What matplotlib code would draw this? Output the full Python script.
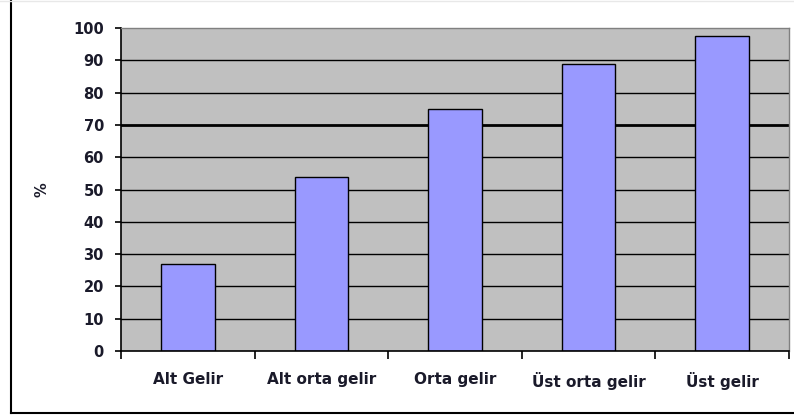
import matplotlib
matplotlib.use("Agg")
import matplotlib.pyplot as plt
from matplotlib.lines import Line2D
import numpy as np

categories = ["Alt Gelir", "Alt orta gelir", "Orta gelir", "Üst orta gelir", "Üst gelir"]
values = [27, 54, 75, 89, 97.5]
yticks = [0, 10, 20, 30, 40, 50, 60, 70, 80, 90, 100]

W, H = 794, 416
fig = plt.figure(figsize=(W / 100, H / 100), dpi=100)
fig.patch.set_facecolor("white")

ax = fig.add_axes([121 / W, 1 - 351 / H, (789 - 121) / W, (351 - 28) / H])
ax.set_facecolor("#C0C0C0")

x = np.arange(len(categories))
ax.set_xlim(-0.5, len(categories) - 0.5)
ax.set_ylim(0, 100)

for t in yticks[1:-1]:
    ax.axhline(t, color="black", lw=2.0 if t == 70 else 1.0, zorder=1)

ax.bar(x, values, width=0.4, color="#9999FF", edgecolor="black", linewidth=1.0, zorder=2)

tc = "#1a1a2a"
ax.set_yticks(yticks)
ax.set_yticklabels([str(t) for t in yticks], fontsize=10.5, fontweight="bold", color=tc)
ax.set_xticks(x)
ax.set_xticklabels(categories, fontsize=11, fontweight="bold", color=tc)
ax.set_xticks(np.arange(-0.5, len(categories), 1.0), minor=True)
ax.tick_params(axis="x", which="major", length=0, pad=15)
ax.tick_params(axis="x", which="minor", length=5.5, width=1.2, color="black", direction="out")
ax.tick_params(axis="y", which="major", length=4.3, width=1.2, color="black", direction="out", pad=8)

for s in ["left", "bottom"]:
    ax.spines[s].set_color("black")
    ax.spines[s].set_linewidth(1.2)
for s in ["top", "right"]:
    ax.spines[s].set_color("#808080")
    ax.spines[s].set_linewidth(1.0)

fig.text(42 / W, 1 - 190 / H, "%", rotation=90, fontsize=10.5, fontweight="bold",
         ha="center", va="center", color=tc)

# figure frame (left and bottom visible)
yb = 1 - 413 / H
fig.add_artist(Line2D([10.5 / W, 10.5 / W], [yb, 1], transform=fig.transFigure,
                      color="black", lw=1.5))
fig.add_artist(Line2D([10.5 / W, 1], [yb, yb], transform=fig.transFigure,
                      color="black", lw=1.5))
fig.add_artist(Line2D([0, 1], [1 - 0.5 / H, 1 - 0.5 / H], transform=fig.transFigure,
                      color="#E8E8E8", lw=1.0))

fig.savefig("out.png", dpi=100, facecolor="white")
